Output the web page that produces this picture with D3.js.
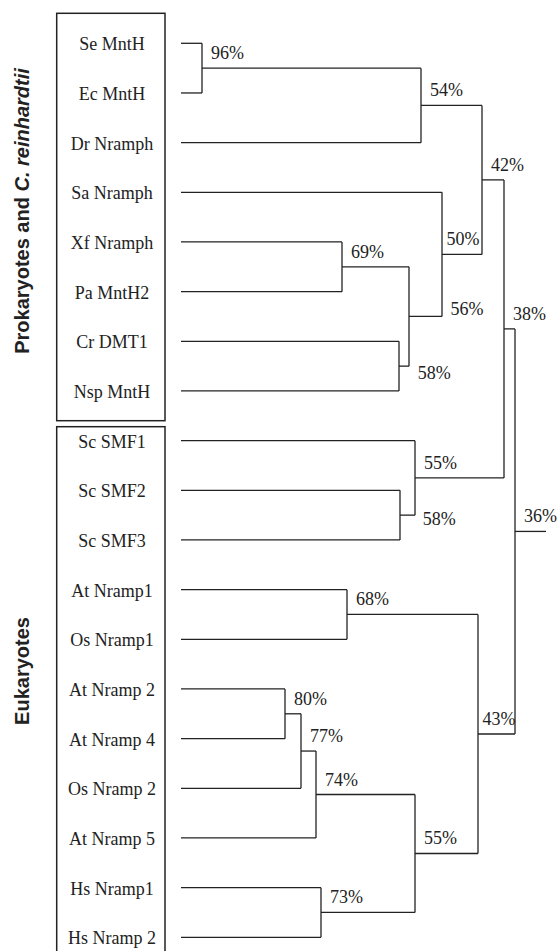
<!DOCTYPE html>
<html>
<head>
<meta charset="utf-8">
<script src="https://cdn.jsdelivr.net/npm/d3@7"></script>
<style>
  html, body { margin: 0; padding: 0; background: #fff; }
  svg { display: block; }
</style>
</head>
<body>
<svg id="chart" width="559" height="951"></svg>
<script>
// ---------- DATA ----------
// Leaves in display order (top to bottom)
const leaves = [
  "Se MntH", "Ec MntH", "Dr Nramph", "Sa Nramph", "Xf Nramph", "Pa MntH2",
  "Cr DMT1", "Nsp MntH", "Sc SMF1", "Sc SMF2", "Sc SMF3",
  "At Nramp1", "Os Nramp1", "At Nramp 2", "At Nramp 4", "Os Nramp 2",
  "At Nramp 5", "Hs Nramp1", "Hs Nramp 2"
];

// Internal nodes (clusters): id, two children, merge height (distance units), bootstrap support
const nodeIds      = ["A", "B", "C", "D", "E", "F", "G", "H", "I", "J", "K", "L", "M", "N", "O", "P", "Q", "R"];
const nodeChildA   = ["Se MntH", "A", "Xf Nramph", "Cr DMT1", "C", "Sa Nramph", "B", "Sc SMF2", "Sc SMF1", "G", "At Nramp1", "At Nramp 2", "L", "M", "Hs Nramp1", "N", "K", "J"];
const nodeChildB   = ["Ec MntH", "Dr Nramph", "Pa MntH2", "Nsp MntH", "D", "E", "F", "Sc SMF3", "H", "I", "Os Nramp1", "At Nramp 4", "Os Nramp 2", "At Nramp 5", "Hs Nramp 2", "O", "P", "Q"];
const nodeHeight   = [2.1, 24.0, 16.1, 21.8, 22.8, 26.1, 30.1, 21.9, 23.4, 32.3, 16.6, 10.4, 12.0, 13.5, 14.0, 23.4, 29.7, 33.4];
const nodeSupport  = ["96%", "54%", "69%", "58%", "56%", "50%", "42%", "58%", "55%", "38%", "68%", "80%", "77%", "74%", "73%", "55%", "43%", "36%"];
const rootStemEnd  = 36.5;

// Group boxes
const groupNames   = ["Prokaryotes and ", "Eukaryotes"];
const groupItalic  = ["C. reinhardtii", ""];
const groupFirst   = ["Se MntH", "Sc SMF1"];
const groupLast    = ["Nsp MntH", "Hs Nramp 2"];

// ---------- LAYOUT / STYLE ----------
const ink = "#222";
const serif = "'Liberation Serif', 'Times New Roman', Times, serif";
const sans = "'Liberation Sans', Arial, Helvetica, sans-serif";

const svg = d3.select("#chart");

const y = d3.scalePoint().domain(leaves).range([43.3, 937.3]);
const x = d3.scaleLinear().domain([0, rootStemEnd]).range([181, 546]);

// Build hierarchy
const nodeMap = new Map();
leaves.forEach(l => nodeMap.set(l, { name: l, height: 0 }));
nodeIds.forEach((id, i) => {
  nodeMap.set(id, {
    name: id, height: nodeHeight[i], support: nodeSupport[i],
    children: [nodeMap.get(nodeChildA[i]), nodeMap.get(nodeChildB[i])]
  });
});
const root = d3.hierarchy(nodeMap.get(nodeIds[nodeIds.length - 1]));

// compute positions (postorder: y = midpoint of children)
root.eachAfter(n => {
  n.px = x(n.data.height);
  n.py = n.children ? (n.children[0].py + n.children[n.children.length - 1].py) / 2 : y(n.data.name);
});

const g = svg.append("g");

// Branch lines
root.each(n => {
  if (n.children) {
    g.append("line")
      .attr("x1", n.px).attr("x2", n.px)
      .attr("y1", n.children[0].py).attr("y2", n.children[1].py)
      .attr("stroke", ink).attr("stroke-width", 1.3);
    n.children.forEach(c => {
      g.append("line")
        .attr("x1", c.px).attr("x2", n.px)
        .attr("y1", c.py).attr("y2", c.py)
        .attr("stroke", ink).attr("stroke-width", 1.3);
    });
  }
});
// Root stem
g.append("line")
  .attr("x1", root.px).attr("x2", x(rootStemEnd))
  .attr("y1", root.py).attr("y2", root.py)
  .attr("stroke", ink).attr("stroke-width", 1.3);

// Support labels: default above-right of node's outgoing branch
const labelTweaks = {
  Q: { dx: 4.5 },
  F: { dx: 4.5 },
  E: { fromParent: true, dx: 8.5, dy: -1 },
  D: { fromParent: true, dx: 8.7, dy: 13.3 },
  H: { fromParent: true, dx: 7.7, dy: 10 }
};
root.each(n => {
  if (!n.children) return;
  const t = labelTweaks[n.data.name] || {};
  const baseX = t.fromParent && n.parent ? n.parent.px : n.px;
  const dx = t.dx !== undefined ? t.dx : 9;
  const dy = t.dy !== undefined ? t.dy : -9;
  g.append("text")
    .attr("x", baseX + dx).attr("y", n.py + dy)
    .attr("font-family", serif).attr("font-size", 18)
    .attr("fill", ink)
    .text(n.data.support);
});

// Leaf labels
g.selectAll("text.leaf").data(leaves).enter().append("text")
  .attr("class", "leaf")
  .attr("x", 112).attr("y", d => y(d) + 7)
  .attr("text-anchor", "middle")
  .attr("font-family", serif).attr("font-size", 18)
  .attr("fill", ink)
  .text(d => d);

// Group boxes
const boxTop = [13.3, 426.7];
const boxBottom = [420.7, 955];
groupNames.forEach((name, i) => {
  svg.append("rect")
    .attr("x", 56.7).attr("y", boxTop[i])
    .attr("width", 165 - 56.7).attr("height", boxBottom[i] - boxTop[i])
    .attr("fill", "none").attr("stroke", ink).attr("stroke-width", 1.5);
  const cy = i === 0 ? 211 : 671;
  const t = svg.append("text")
    .attr("transform", `translate(29,${cy}) rotate(-90)`)
    .attr("text-anchor", "middle")
    .attr("font-family", sans).attr("font-size", 20).attr("font-weight", "bold")
    .attr("fill", ink);
  t.append("tspan").text(name);
  if (groupItalic[i]) t.append("tspan").attr("font-style", "italic").text(groupItalic[i]);
});
</script>
</body>
</html>
